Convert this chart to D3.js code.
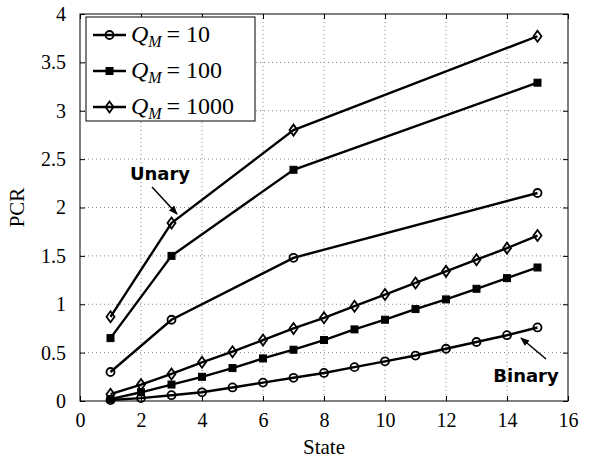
<!DOCTYPE html>
<html>
<head>
<meta charset="utf-8">
<script src="https://cdn.jsdelivr.net/npm/d3@7"></script>
<style>
  body { margin: 0; background: #fff; }
  svg text { font-family: 'Liberation Serif', 'DejaVu Serif', serif; }
</style>
</head>
<body>
<svg id="chart" width="597" height="459"></svg>
<script>
// data
const unaryStates = [1, 3, 7, 15]
const binaryStates = [1, 2, 3, 4, 5, 6, 7, 8, 9, 10, 11, 12, 13, 14, 15]
const unaryQ10 = [0.30, 0.84, 1.48, 2.15]
const unaryQ100 = [0.65, 1.50, 2.39, 3.29]
const unaryQ1000 = [0.87, 1.84, 2.80, 3.77]
const binaryQ10 = [0.01, 0.03, 0.06, 0.09, 0.14, 0.19, 0.24, 0.29, 0.35, 0.41, 0.47, 0.54, 0.61, 0.68, 0.76]
const binaryQ100 = [0.02, 0.09, 0.17, 0.25, 0.34, 0.44, 0.53, 0.63, 0.74, 0.84, 0.95, 1.05, 1.16, 1.27, 1.38]
const binaryQ1000 = [0.07, 0.17, 0.28, 0.40, 0.51, 0.63, 0.75, 0.86, 0.98, 1.10, 1.22, 1.34, 1.46, 1.58, 1.71]
const legendLabels = ['10', '100', '1000']
const xTicks = [0, 2, 4, 6, 8, 10, 12, 14, 16]
const yTicks = [0, 0.5, 1, 1.5, 2, 2.5, 3, 3.5, 4]

const margin = { top: 14, right: 29, bottom: 58, left: 80 }
const width = 597 - margin.left - margin.right
const height = 459 - margin.top - margin.bottom

const svg = d3.select('#chart')
const g = svg.append('g').attr('transform', `translate(${margin.left},${margin.top})`)

const x = d3.scaleLinear().domain([0, 16]).range([0, width])
const y = d3.scaleLinear().domain([0, 4]).range([height, 0])

// dotted grid
g.append('g').attr('class', 'grid')
  .selectAll('line.gx').data(xTicks.slice(1, -1)).enter().append('line')
  .attr('x1', d => x(d)).attr('x2', d => x(d)).attr('y1', 0).attr('y2', height)
g.select('.grid')
  .selectAll('line.gy').data(yTicks.slice(1, -1)).enter().append('line')
  .attr('y1', d => y(d)).attr('y2', d => y(d)).attr('x1', 0).attr('x2', width)
g.selectAll('.grid line').attr('stroke', '#888').attr('stroke-width', 1).attr('stroke-dasharray', '1,3')

// axes with inward ticks on all four sides
const styleAxis = sel => {
  sel.select('.domain').remove()
  sel.selectAll('line').attr('stroke', '#000')
  sel.selectAll('text').style('font-size', '20px').attr('fill', '#000')
}
g.append('g').attr('transform', `translate(0,${height})`)
  .call(d3.axisBottom(x).tickValues(xTicks).tickSize(-5).tickPadding(12).tickFormat(d3.format('d')))
  .call(styleAxis)
g.append('g')
  .call(d3.axisTop(x).tickValues(xTicks).tickSize(-5).tickFormat(''))
  .call(styleAxis)
g.append('g')
  .call(d3.axisLeft(y).tickValues(yTicks).tickSize(-5).tickPadding(14).tickFormat(d => d))
  .call(styleAxis)
g.append('g').attr('transform', `translate(${width},0)`)
  .call(d3.axisRight(y).tickValues(yTicks).tickSize(-5).tickFormat(''))
  .call(styleAxis)

g.append('rect').attr('width', width).attr('height', height)
  .attr('fill', 'none').attr('stroke', '#000').attr('stroke-width', 1)

// axis labels
g.append('text').attr('x', width / 2).attr('y', height + 53)
  .attr('text-anchor', 'middle').style('font-size', '21px').text('State')
g.append('text').attr('transform', `translate(${-56},${height / 2}) rotate(-90)`)
  .attr('text-anchor', 'middle').style('font-size', '21px').text('PCR')

// series
const series = [
  { xs: unaryStates, ys: unaryQ10, marker: 'circle' },
  { xs: unaryStates, ys: unaryQ100, marker: 'square' },
  { xs: unaryStates, ys: unaryQ1000, marker: 'diamond' },
  { xs: binaryStates, ys: binaryQ10, marker: 'circle' },
  { xs: binaryStates, ys: binaryQ100, marker: 'square' },
  { xs: binaryStates, ys: binaryQ1000, marker: 'diamond' }
]

const line = d3.line().x(d => x(d[0])).y(d => y(d[1]))

function drawMarker(sel, kind) {
  if (kind === 'circle') {
    sel.append('circle').attr('r', 4).attr('fill', 'none')
      .attr('stroke', '#000').attr('stroke-width', 1.8)
  } else if (kind === 'square') {
    sel.append('rect').attr('x', -3.5).attr('y', -3.5).attr('width', 7).attr('height', 7)
      .attr('fill', '#000').attr('stroke', '#000').attr('stroke-width', 1)
  } else {
    sel.append('path').attr('d', 'M0,-5.5L4,0L0,5.5L-4,0Z').attr('fill', 'none')
      .attr('stroke', '#000').attr('stroke-width', 1.8)
  }
}

series.forEach(s => {
  const pts = s.xs.map((v, i) => [v, s.ys[i]])
  g.append('path').datum(pts).attr('d', line)
    .attr('fill', 'none').attr('stroke', '#000').attr('stroke-width', 2.4)
  g.selectAll(null).data(pts).enter().append('g')
    .attr('transform', d => `translate(${x(d[0])},${y(d[1])})`)
    .each(function () { drawMarker(d3.select(this), s.marker) })
})

// annotations
const defs = svg.append('defs')
defs.append('marker').attr('id', 'arrow').attr('viewBox', '0 0 10 10')
  .attr('refX', 9).attr('refY', 5).attr('markerWidth', 6).attr('markerHeight', 6)
  .attr('orient', 'auto-start-reverse')
  .append('path').attr('d', 'M0,1L10,5L0,9Z').attr('fill', '#000')

const annot = [
  { text: 'Unary', tx: 160, ty: 180, from: [152, 187], to: [177, 214] },
  { text: 'Binary', tx: 526, ty: 382, from: [546, 359], to: [521, 338] }
]
annot.forEach(a => {
  svg.append('text').attr('x', a.tx).attr('y', a.ty).attr('text-anchor', 'middle')
    .style('font-family', "'DejaVu Sans', sans-serif").style('font-weight', 'bold')
    .style('font-size', '18px').text(a.text)
  svg.append('line').attr('x1', a.from[0]).attr('y1', a.from[1])
    .attr('x2', a.to[0]).attr('y2', a.to[1])
    .attr('stroke', '#000').attr('stroke-width', 1.5).attr('marker-end', 'url(#arrow)')
})

// legend
const legend = g.append('g').attr('transform', 'translate(6,3)')
legend.append('rect').attr('width', 169).attr('height', 104)
  .attr('fill', '#fff').attr('stroke', '#000').attr('stroke-width', 1)
const kinds = ['circle', 'square', 'diamond']
legendLabels.forEach((lab, i) => {
  const row = legend.append('g').attr('transform', `translate(0,${18 + i * 36})`)
  row.append('line').attr('x1', 7).attr('x2', 40).attr('stroke', '#000').attr('stroke-width', 2.4)
  drawMarker(row.append('g').attr('transform', 'translate(23.5,0)'), kinds[i])
  const t = row.append('text').attr('x', 45).attr('y', 7).style('font-size', '24px')
  t.append('tspan').style('font-style', 'italic').text('Q')
  t.append('tspan').style('font-style', 'italic').style('font-size', '16px').attr('dy', 5).text('M')
  t.append('tspan').attr('dy', -5).text('\u2009= ' + lab)
})
</script>
</body>
</html>
